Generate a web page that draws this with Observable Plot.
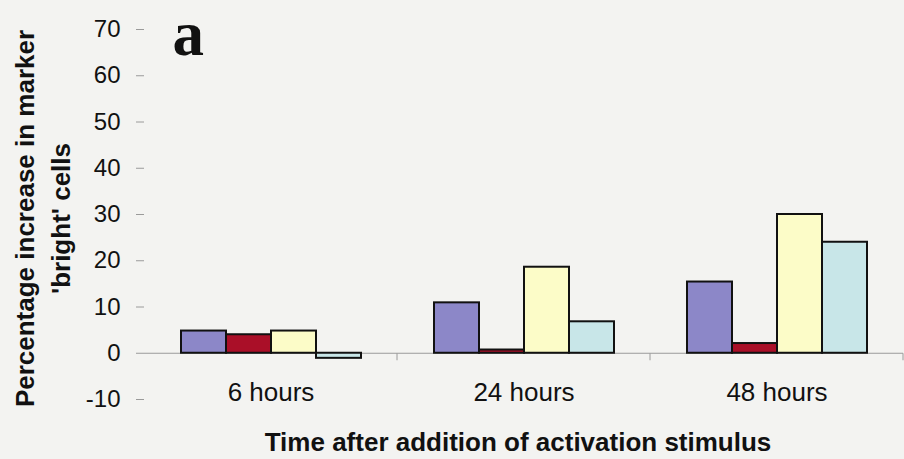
<!DOCTYPE html>
<html>
<head>
<meta charset="utf-8">
<script src="https://cdn.jsdelivr.net/npm/d3@7"></script>
<script src="https://cdn.jsdelivr.net/npm/@observablehq/plot@0.6"></script>
<style>
  html, body { margin: 0; padding: 0; background: #f3f3f1; }
  #chart { width: 904px; height: 459px; }
</style>
</head>
<body>
<div id="chart"></div>
<script>
// ---- data ----
const times = ["6 hours", "24 hours", "48 hours"];
const series = ["Series 1", "Series 2", "Series 3", "Series 4"];
const series1 = [4.8, 10.9, 15.4];
const series2 = [4.0, 0.7, 2.1];
const series3 = [4.8, 18.6, 30.0];
const series4 = [-1.1, 6.8, 24.0];
const yTicks = [-10, 0, 10, 20, 30, 40, 50, 60, 70];
const colors = ["#8c87c8", "#aa0f28", "#fcfcc8", "#c8e6e8"];
const yTitle = "Percentage increase in marker\n'bright' cells";
const xTitle = "Time after addition of activation stimulus";
const panelLabel = "a";

const seriesValues = [series1, series2, series3, series4];
const data = times.flatMap((t, i) => series.map((s, j) => ({time: t, series: s, value: seriesValues[j][i]})));

const gray = "#9a9a9a";

// short separator tick below the zero line at the right edge of each group
function separatorTick(index, scales, values, dims, context, next) {
  const g = next(index, scales, values, dims, context);
  const x = dims.width - dims.marginRight;
  const y0 = scales.y(0);
  d3.select(g).append("line")
    .attr("x1", x).attr("x2", x).attr("y1", y0).attr("y2", y0 + 7)
    .attr("stroke", gray);
  return g;
}

// vertical y-axis line (first facet only)
function yAxisLine(index, scales, values, dims) {
  if (!index.length) return null;
  const x = dims.marginLeft;
  return d3.create("svg:line")
    .attr("x1", x).attr("x2", x)
    .attr("y1", scales.y(yTicks[yTicks.length - 1]))
    .attr("y2", scales.y(yTicks[0]))
    .attr("stroke", gray)
    .node();
}

const chart = Plot.plot({
  width: 904,
  height: 459,
  marginLeft: 143,
  marginRight: 0,
  marginTop: 29,
  marginBottom: 60,
  style: {background: "#f3f3f1", fontFamily: "'Liberation Sans', Arial, sans-serif", color: "#111"},
  fx: {domain: times, padding: 0, label: null},
  x: {domain: series, paddingInner: 0, paddingOuter: 0.76, axis: null},
  y: {domain: [-10, 70], label: null},
  color: {domain: series, range: colors},
  marks: [
    Plot.ruleY([0], {stroke: gray, strokeWidth: 1, render: separatorTick}),
    Plot.dot([{time: times[0]}], {fx: "time", render: yAxisLine}),
    Plot.barY(data, {fx: "time", x: "series", y: "value", fill: "series", stroke: "#111", strokeWidth: 2, inset: 0}),
    Plot.axisY({ticks: yTicks, tickFormat: d => String(d), tickSize: 8, tickPadding: 16, fontSize: 24, stroke: gray, fill: "#111", label: null}),
    Plot.axisFx({anchor: "bottom", tickSize: 0, tickPadding: 0, dy: -17, fontSize: 26, fill: "#111", label: null}),
    Plot.text([{time: times[0], label: yTitle}], {
      fx: "time", text: "label", frameAnchor: "left", rotate: -90,
      textAnchor: "middle", lineAnchor: "middle", lineHeight: 1.37,
      dx: -104, dy: 4, fontSize: 26, fontWeight: "bold", fill: "#111"
    }),
    Plot.text([{time: times[1], label: xTitle}], {
      fx: "time", text: "label", frameAnchor: "bottom", textAnchor: "middle",
      lineAnchor: "bottom", dx: -6, dy: 51, fontSize: 26, fontWeight: "bold", fill: "#111"
    }),
    Plot.text([{time: times[0], label: panelLabel}], {
      fx: "time", text: "label", frameAnchor: "top-left", textAnchor: "start",
      lineAnchor: "bottom", dx: 28, dy: 25, fontSize: 63, fontWeight: "bold",
      fontFamily: "'Liberation Serif', 'DejaVu Serif', serif", fill: "#111"
    })
  ]
});
document.getElementById("chart").appendChild(chart);
</script>
</body>
</html>
